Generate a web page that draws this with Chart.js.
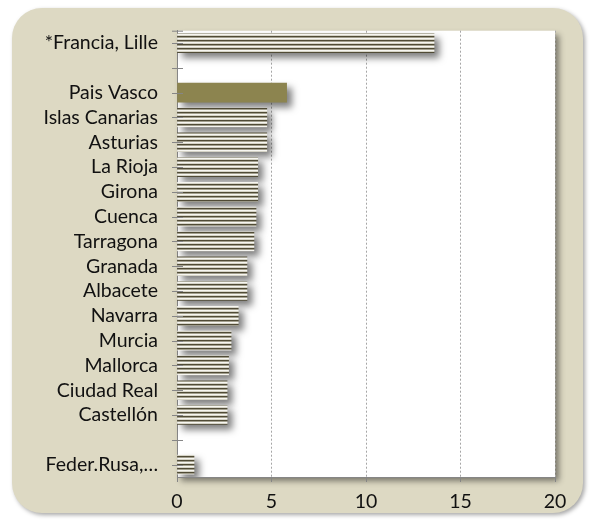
<!DOCTYPE html>
<html>
<head>
<meta charset="utf-8">
<script src="https://cdn.jsdelivr.net/npm/chart.js@4/dist/chart.umd.min.js"></script>
<style>
  html, body { margin: 0; padding: 0; background: #fff; }
  #wrap { width: 590px; height: 523px; position: relative; }
</style>
</head>
<body>
<div id="wrap"><canvas id="provChart" width="590" height="523"></canvas></div>
<script>
const categories = ['*Francia, Lille', '', 'Pais Vasco', 'Islas Canarias', 'Asturias', 'La Rioja', 'Girona',
    'Cuenca', 'Tarragona', 'Granada', 'Albacete', 'Navarra', 'Murcia', 'Mallorca', 'Ciudad Real',
    'Castellón', '', 'Feder.Rusa,…'];
const values = [13.6, null, 5.8, 4.75, 4.75, 4.27, 4.27, 4.18, 4.07, 3.7, 3.7, 3.24, 2.86, 2.73, 2.65, 2.65, null, 0.9];
const highlighted = 'Pais Vasco';
const xTicks = [0, 5, 10, 15, 20];

document.addEventListener('DOMContentLoaded', () => {
    provChart();
});

function stripePattern() {
    const c = document.createElement('canvas');
    c.width = 4;
    c.height = 4;
    const g = c.getContext('2d');
    const rows = ['#504b36', '#a3a08e', '#f7f6f1', '#d6d4c7'];
    rows.forEach((col, i) => {
        g.fillStyle = col;
        g.fillRect(0, i, 4, 1);
    });
    return g.createPattern(c, 'repeat');
}

// frame, white plot area and shadows
const background = {
    id: 'background',
    beforeDraw(chart) {
        const ctx = chart.ctx;
        const a = chart.chartArea;
        ctx.save();
        ctx.shadowColor = 'rgba(0,0,0,0.35)';
        ctx.shadowBlur = 4;
        ctx.shadowOffsetX = 2;
        ctx.shadowOffsetY = 2;
        ctx.fillStyle = '#ddd9c3';
        ctx.beginPath();
        ctx.roundRect(12, 8, 571, 505, 30);
        ctx.fill();
        ctx.shadowColor = 'rgba(0,0,0,0.45)';
        ctx.shadowBlur = 6;
        ctx.shadowOffsetX = 4;
        ctx.shadowOffsetY = 4;
        ctx.fillStyle = '#ffffff';
        ctx.fillRect(a.left, a.top, a.right - a.left, a.bottom - a.top);
        ctx.restore();
    },
    beforeDatasetsDraw(chart) {
        const ctx = chart.ctx;
        ctx.save();
        ctx.shadowColor = 'rgba(0,0,0,0.5)';
        ctx.shadowBlur = 7;
        ctx.shadowOffsetX = 5;
        ctx.shadowOffsetY = 5;
    },
    afterDatasetsDraw(chart) {
        chart.ctx.restore();
    },
    afterDraw(chart) {
        // tick marks crossing the category axis
        const ctx = chart.ctx;
        const y = chart.scales.y;
        const x0 = chart.chartArea.left;
        ctx.save();
        ctx.strokeStyle = '#868686';
        ctx.lineWidth = 1;
        ctx.beginPath();
        y.ticks.forEach((t, i) => {
            const py = Math.round(y.getPixelForTick(i)) + 0.5;
            ctx.moveTo(x0 - 5, py);
            ctx.lineTo(x0 + 6, py);
        });
        const top = chart.chartArea.top + 0.5;
        ctx.moveTo(x0 - 5, top);
        ctx.lineTo(x0 + 6, top);
        ctx.stroke();
        ctx.restore();
    }
};

function provChart() {
    const ctx = document.getElementById('provChart');
    const stripes = stripePattern();
    const colors = categories.map(c => c === highlighted ? '#8c844f' : stripes);

    new Chart(ctx, {
        type: 'bar',
        data: {
            labels: categories,
            datasets: [{
                data: values,
                backgroundColor: colors,
                borderWidth: 0,
                barThickness: 19
            }]
        },
        options: {
            indexAxis: 'y',
            responsive: false,
            animation: false,
            layout: {
                padding: { left: 0, right: 35, top: 27, bottom: 0 }
            },
            plugins: {
                legend: { display: false },
                tooltip: { enabled: false }
            },
            scales: {
                x: {
                    min: 0,
                    max: 20,
                    afterBuildTicks: s => { s.ticks = xTicks.map(v => ({ value: v })); },
                    afterFit: s => { s.height = 46; },
                    grid: {
                        color: '#a6a6a6',
                        tickColor: '#868686',
                        tickLength: 5,
                        tickBorderDash: []
                    },
                    border: { display: true, color: '#868686', dash: [2, 2] },
                    ticks: {
                        padding: 8,
                        color: '#111',
                        font: { family: 'Lato', size: 19.5 }
                    }
                },
                y: {
                    afterFit: s => { s.width = 177; },
                    grid: {
                        offset: false,
                        drawOnChartArea: false,
                        drawTicks: false
                    },
                    border: { display: true, color: '#868686' },
                    ticks: {
                        padding: 19,
                        autoSkip: false,
                        color: '#111',
                        font: { family: 'Lato', size: 19.5 }
                    }
                }
            }
        },
        plugins: [background]
    });
}
</script>
</body>
</html>
